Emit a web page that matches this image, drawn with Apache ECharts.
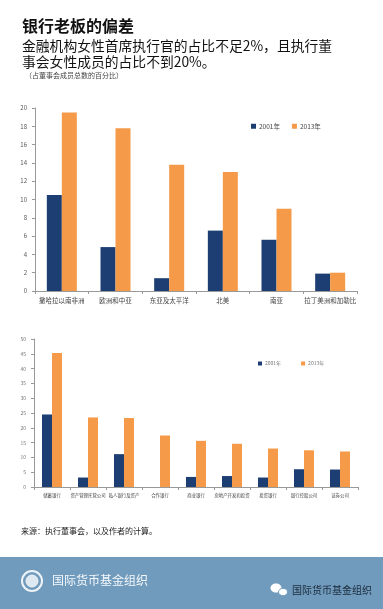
<!DOCTYPE html>
<html><head><meta charset="utf-8">
<script src="https://cdn.jsdelivr.net/npm/echarts@6/dist/echarts.min.js"></script>
<style>html,body{margin:0;padding:0;background:#fff}#c{width:383px;height:609px}</style>
</head><body><div id="c"></div>
<script>
const regions = ['撒哈拉以南非洲','欧洲和中亚','东亚及太平洋','北美','南亚','拉丁美洲和加勒比'];
const region2001 = [10.5, 4.8, 1.4, 6.6, 5.6, 1.9];
const region2013 = [19.5, 17.8, 13.8, 13.0, 9.0, 2.0];
const sectors = ['储蓄银行','资产管理托管公司','私人银行及资产','合作银行','商业银行','房地产开发和投资','投资银行','银行控股公司','证券公司'];
const sector2001 = [24.5, 3.2, 11.1, 0, 3.4, 3.7, 3.2, 6.0, 5.9];
const sector2013 = [45.3, 23.5, 23.3, 17.4, 15.6, 14.6, 13.0, 12.4, 12.0];
const seriesNames = ['2001年','2013年'];
const topTicks = {min:0, max:20, interval:2};
const botTicks = {min:0, max:50, interval:5};

const NAVY = '#1d3e72', ORANGE = '#f59a48';
const FONT = '"Noto Sans CJK SC", sans-serif';
const chart = echarts.init(document.getElementById('c'));
const axLine = {show:true, lineStyle:{color:'#999', width:1}};
function catAxis(idx, data, fs){
  return {type:'category', gridIndex:idx, data:data, axisLine:axLine,
    axisTick:{show:true, length:3, lineStyle:{color:'#999'}},
    axisLabel:{color:'#444', fontSize:fs, fontFamily:FONT, interval:0, margin:6}};
}
function valAxis(idx, t, fs, col){
  return {type:'value', gridIndex:idx, min:t.min, max:t.max, interval:t.interval,
    axisLine:axLine, axisTick:{show:true, length:3, lineStyle:{color:'#999'}},
    splitLine:{show:false}, axisLabel:{margin:8, color:col, fontSize:fs, fontFamily:FONT}};
}
chart.setOption({
  animation:false,
  textStyle:{fontFamily:FONT},
  grid:[{left:35, right:26, top:108, height:183},
        {left:34, right:25, top:339, height:148}],
  xAxis:[catAxis(0, regions, 6.5), catAxis(1, sectors, 4.4)],
  yAxis:[valAxis(0, topTicks, 6, '#555'), valAxis(1, botTicks, 5, '#777')],
  legend:[
    {data:seriesNames, left:246, top:118, itemWidth:5, itemHeight:5, itemGap:12, icon:'rect',
     textStyle:{fontSize:6.5, color:'#444', padding:[0,0,0,-2]}},
    {data:seriesNames, left:253, top:356, itemWidth:4, itemHeight:4, itemGap:20, icon:'rect',
     textStyle:{fontSize:5, color:'#777', padding:[0,0,0,-2]}}
  ],
  series:[
    {name:seriesNames[0], type:'bar', xAxisIndex:0, yAxisIndex:0, data:region2001, barWidth:15, barGap:'0%', itemStyle:{color:NAVY}},
    {name:seriesNames[1], type:'bar', xAxisIndex:0, yAxisIndex:0, data:region2013, barWidth:15, barGap:'0%', itemStyle:{color:ORANGE}},
    {name:seriesNames[0], type:'bar', xAxisIndex:1, yAxisIndex:1, data:sector2001, barWidth:10, barGap:'0%', itemStyle:{color:NAVY}},
    {name:seriesNames[1], type:'bar', xAxisIndex:1, yAxisIndex:1, data:sector2013, barWidth:10, barGap:'0%', itemStyle:{color:ORANGE}}
  ],
  graphic:[
    {type:'text', left:22, top:18, style:{text:'银行老板的偏差', font:'bold 16px '+FONT, fill:'#111'}},
    {type:'text', left:22, top:38, style:{text:'金融机构女性首席执行官的占比不足2%，且执行董\n事会女性成员的占比不到20%。', font:'13.8px '+FONT, fill:'#111', lineHeight:16}},
    {type:'text', left:25, top:72, style:{text:'（占董事会成员总数的百分比）', font:'7px '+FONT, fill:'#444'}},
    {type:'text', left:21, top:527, style:{text:'来源：执行董事会，以及作者的计算。', font:'8px '+FONT, fill:'#222'}},
    {type:'rect', left:0, top:557, shape:{width:383, height:52}, style:{fill:'#709bbd'}},
    {type:'circle', shape:{cx:32, cy:581, r:10}, style:{fill:'none', stroke:'#eef4f8', lineWidth:2}},
    {type:'circle', shape:{cx:32, cy:581, r:6}, style:{fill:'#dfe9f1', stroke:'#eef4f8', lineWidth:1}},
    {type:'text', left:52, top:574, style:{text:'国际货币基金组织', font:'12px '+FONT, fill:'#f4f8fb'}},
    {type:'ellipse', shape:{cx:276, cy:588, rx:5.5, ry:4.5}, style:{fill:'#fff'}},
    {type:'ellipse', shape:{cx:283, cy:592, rx:4.5, ry:3.7}, style:{fill:'#fff', stroke:'#709bbd', lineWidth:1}},
    {type:'text', left:292, top:585, style:{text:'国际货币基金组织', font:'10px '+FONT, fill:'#1b2a3a'}}
  ]
});
</script></body></html>
